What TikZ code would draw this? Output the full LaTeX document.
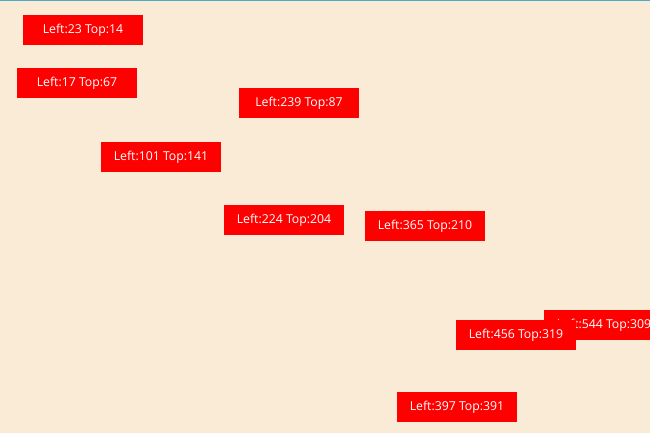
\documentclass[tikz,border=0pt]{standalone}
\usepackage{fontspec}
\setmainfont{Open Sans}
\usepackage{tikz}
\definecolor{pagebg}{HTML}{FAEBD7}
\definecolor{tagred}{HTML}{FF0000}
\definecolor{edgeline}{HTML}{4FA9C9}
\begin{document}
\begin{tikzpicture}[x=0.75pt,y=-0.75pt,
  tag/.style={fill=tagred,text=white,anchor=north west,minimum width=90pt,
    minimum height=22.5pt,inner sep=0pt,outer sep=0pt,font=\fontsize{9.2}{10}\selectfont}]
\useasboundingbox (0,0) rectangle (650,433);
\clip (0,0) rectangle (650,433);
\fill[pagebg] (0,0) rectangle (650,433);
\fill[edgeline] (0,0) rectangle (650,1.3);
\node[tag] (t23) at (23,15) {Left:23 Top:14};
\node[tag] (t17) at (17,68) {Left:17 Top:67};
\node[tag] (t239) at (239,88) {Left:239 Top:87};
\node[tag] (t101) at (101,142) {Left:101 Top:141};
\node[tag] (t224) at (224,205) {Left:224 Top:204};
\node[tag] (t365) at (365,211) {Left:365 Top:210};
\node[tag] (t544) at (544,310) {Left:544 Top:309};
\node[tag] (t456) at (456,320) {Left:456 Top:319};
\node[tag] (t397) at (397,392) {Left:397 Top:391};
\end{tikzpicture}
\end{document}
